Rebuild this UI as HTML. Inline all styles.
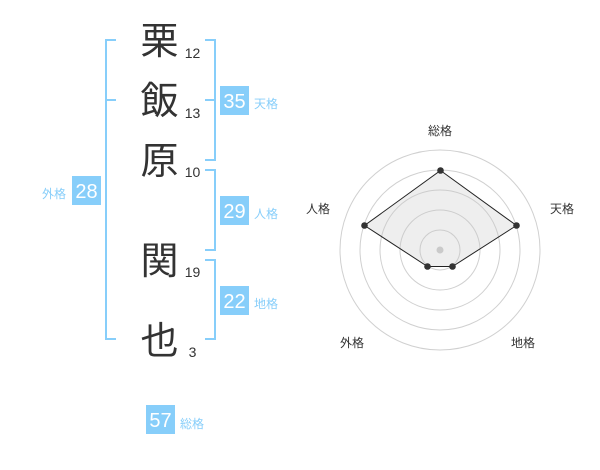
<!DOCTYPE html>
<html><head><meta charset="utf-8"><style>
html,body{margin:0;padding:0;background:#fff;}
svg{display:block;}
text{font-family:"Liberation Sans","Noto Sans CJK JP",sans-serif;}
</style></head><body>
<svg width="600" height="470" viewBox="0 0 600 470" xmlns="http://www.w3.org/2000/svg">
<!-- brackets -->
<g fill="none" stroke="#87cefa" stroke-width="2">
<path d="M116,40 H106 V339 H116 M106,100 H116"/>
<path d="M205,40 H215 V160 H205 M205,100 H215"/>
<path d="M205,170 H215 V250 H205"/>
<path d="M205,260 H215 V339 H205"/>
</g>
<!-- kanji -->
<g fill="#333" font-size="38" text-anchor="middle">
<text x="159.5" y="54">栗</text>
<text x="159.5" y="114">飯</text>
<text x="159.5" y="174">原</text>
<text x="159.5" y="274">関</text>
<text x="159.5" y="354">也</text>
</g>
<g fill="#333" font-size="14" text-anchor="middle">
<text x="192.5" y="58">12</text>
<text x="192.5" y="118">13</text>
<text x="192.5" y="177">10</text>
<text x="192.5" y="277">19</text>
<text x="192.5" y="357">3</text>
</g>
<!-- boxes -->
<g fill="#87cefa">
<rect x="220" y="86" width="29" height="29"/>
<rect x="220" y="196" width="29" height="29"/>
<rect x="220" y="286" width="29" height="29"/>
<rect x="72" y="176" width="29" height="29"/>
<rect x="146" y="405" width="29" height="29"/>
</g>
<g fill="#fff" font-size="20" text-anchor="middle">
<text x="234.5" y="108">35</text>
<text x="234.5" y="218">29</text>
<text x="234.5" y="308">22</text>
<text x="86.5" y="198">28</text>
<text x="160.5" y="427">57</text>
</g>
<g fill="#87cefa" font-size="12">
<text x="254" y="108">天格</text>
<text x="254" y="218">人格</text>
<text x="254" y="308">地格</text>
<text x="66" y="198" text-anchor="end">外格</text>
<text x="180" y="428">総格</text>
</g>
<!-- radar -->
<g fill="none" stroke="#d0d0d0" stroke-width="1">
<circle cx="440" cy="250" r="20"/>
<circle cx="440" cy="250" r="40"/>
<circle cx="440" cy="250" r="60"/>
<circle cx="440" cy="250" r="80"/>
<circle cx="440" cy="250" r="100"/>
</g>
<circle cx="440" cy="250" r="3.5" fill="#cccccc"/>
<polygon points="440.5,170.5 516.5,225.5 452.5,266.5 427.5,266.5 364.5,225.5" fill="rgba(200,200,200,0.3)" stroke="#222" stroke-width="1"/>
<g fill="#333">
<circle cx="440.5" cy="170.5" r="3.3"/>
<circle cx="516.5" cy="225.5" r="3.3"/>
<circle cx="452.5" cy="266.5" r="3.3"/>
<circle cx="427.5" cy="266.5" r="3.3"/>
<circle cx="364.5" cy="225.5" r="3.3"/>
</g>
<g fill="#333" font-size="12" text-anchor="middle">
<text x="440" y="135">総格</text>
<text x="562" y="213">天格</text>
<text x="318" y="213">人格</text>
<text x="352" y="347">外格</text>
<text x="523" y="347">地格</text>
</g>
</svg>
</body></html>
